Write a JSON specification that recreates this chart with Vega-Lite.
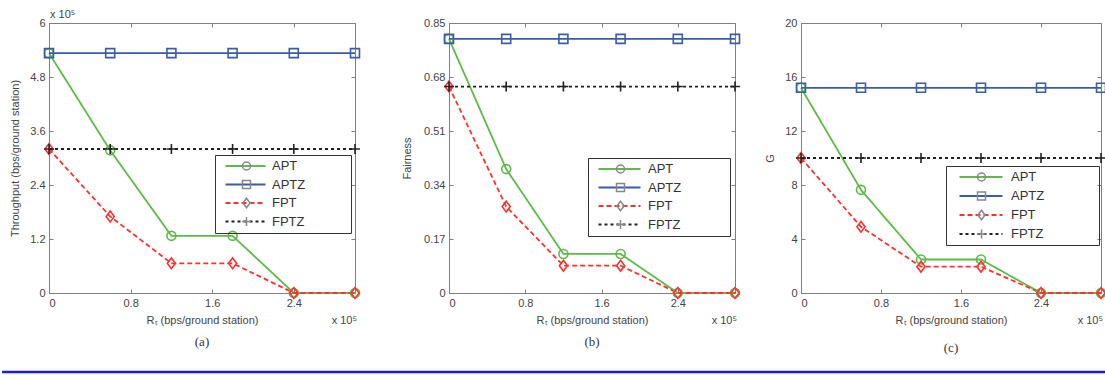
{
  "$schema": "https://vega.github.io/schema/vega-lite/v6.json",
  "background": "white",
  "padding": {"left": 0, "top": 8, "right": 0, "bottom": 0},
  "config": {
    "view": {"stroke": "#808080", "strokeWidth": 1},
    "axis": {"domainColor": "#808080", "tickColor": "#808080", "labelFont": "Liberation Sans", "labelFontSize": 11, "labelColor": "#444444", "titleFont": "Liberation Sans", "titleFontSize": 11, "titleFontWeight": "normal", "titleColor": "#444444", "grid": false, "tickSize": -4, "labelPadding": 8},
    "legend": {"labelFont": "Liberation Sans", "labelFontSize": 13, "labelColor": "#333333", "padding": 4, "rowPadding": 4.5, "clipHeight": 14},
    "title": {"font": "Liberation Serif", "fontSize": 13, "fontWeight": "normal", "color": "#333333"}
  },
  "datasets": {
    "a": [
      {"series": "APT", "x": 0, "y": 5.33}, {"series": "APT", "x": 0.6, "y": 3.17}, {"series": "APT", "x": 1.2, "y": 1.27}, {"series": "APT", "x": 1.8, "y": 1.27}, {"series": "APT", "x": 2.4, "y": 0}, {"series": "APT", "x": 3.0, "y": 0},
      {"series": "APTZ", "x": 0, "y": 5.33}, {"series": "APTZ", "x": 0.6, "y": 5.33}, {"series": "APTZ", "x": 1.2, "y": 5.33}, {"series": "APTZ", "x": 1.8, "y": 5.33}, {"series": "APTZ", "x": 2.4, "y": 5.33}, {"series": "APTZ", "x": 3.0, "y": 5.33},
      {"series": "FPT", "x": 0, "y": 3.2}, {"series": "FPT", "x": 0.6, "y": 1.7}, {"series": "FPT", "x": 1.2, "y": 0.66}, {"series": "FPT", "x": 1.8, "y": 0.66}, {"series": "FPT", "x": 2.4, "y": 0}, {"series": "FPT", "x": 3.0, "y": 0},
      {"series": "FPTZ", "x": 0, "y": 3.2}, {"series": "FPTZ", "x": 0.6, "y": 3.2}, {"series": "FPTZ", "x": 1.2, "y": 3.2}, {"series": "FPTZ", "x": 1.8, "y": 3.2}, {"series": "FPTZ", "x": 2.4, "y": 3.2}, {"series": "FPTZ", "x": 3.0, "y": 3.2}
    ],
    "b": [
      {"series": "APT", "x": 0, "y": 0.80}, {"series": "APT", "x": 0.6, "y": 0.39}, {"series": "APT", "x": 1.2, "y": 0.123}, {"series": "APT", "x": 1.8, "y": 0.123}, {"series": "APT", "x": 2.4, "y": 0}, {"series": "APT", "x": 3.0, "y": 0},
      {"series": "APTZ", "x": 0, "y": 0.80}, {"series": "APTZ", "x": 0.6, "y": 0.80}, {"series": "APTZ", "x": 1.2, "y": 0.80}, {"series": "APTZ", "x": 1.8, "y": 0.80}, {"series": "APTZ", "x": 2.4, "y": 0.80}, {"series": "APTZ", "x": 3.0, "y": 0.80},
      {"series": "FPT", "x": 0, "y": 0.65}, {"series": "FPT", "x": 0.6, "y": 0.272}, {"series": "FPT", "x": 1.2, "y": 0.086}, {"series": "FPT", "x": 1.8, "y": 0.086}, {"series": "FPT", "x": 2.4, "y": 0}, {"series": "FPT", "x": 3.0, "y": 0},
      {"series": "FPTZ", "x": 0, "y": 0.65}, {"series": "FPTZ", "x": 0.6, "y": 0.65}, {"series": "FPTZ", "x": 1.2, "y": 0.65}, {"series": "FPTZ", "x": 1.8, "y": 0.65}, {"series": "FPTZ", "x": 2.4, "y": 0.65}, {"series": "FPTZ", "x": 3.0, "y": 0.65}
    ],
    "c": [
      {"series": "APT", "x": 0, "y": 15.2}, {"series": "APT", "x": 0.6, "y": 7.64}, {"series": "APT", "x": 1.2, "y": 2.48}, {"series": "APT", "x": 1.8, "y": 2.48}, {"series": "APT", "x": 2.4, "y": 0}, {"series": "APT", "x": 3.0, "y": 0},
      {"series": "APTZ", "x": 0, "y": 15.2}, {"series": "APTZ", "x": 0.6, "y": 15.2}, {"series": "APTZ", "x": 1.2, "y": 15.2}, {"series": "APTZ", "x": 1.8, "y": 15.2}, {"series": "APTZ", "x": 2.4, "y": 15.2}, {"series": "APTZ", "x": 3.0, "y": 15.2},
      {"series": "FPT", "x": 0, "y": 10.0}, {"series": "FPT", "x": 0.6, "y": 4.9}, {"series": "FPT", "x": 1.2, "y": 1.95}, {"series": "FPT", "x": 1.8, "y": 1.95}, {"series": "FPT", "x": 2.4, "y": 0}, {"series": "FPT", "x": 3.0, "y": 0},
      {"series": "FPTZ", "x": 0, "y": 10.0}, {"series": "FPTZ", "x": 0.6, "y": 10.0}, {"series": "FPTZ", "x": 1.2, "y": 10.0}, {"series": "FPTZ", "x": 1.8, "y": 10.0}, {"series": "FPTZ", "x": 2.4, "y": 10.0}, {"series": "FPTZ", "x": 3.0, "y": 10.0}
    ]
  },
  "vconcat": [
    {
      "hconcat": [
        {
          "width": 306, "height": 270,
          "title": {"text": "(a)", "orient": "bottom", "offset": 10},
          "resolve": {"axis": {"x": "independent", "y": "independent"}},
          "layer": [
            {"data": {"name": "a"}, "mark": {"type": "line", "strokeWidth": 1.8},
             "encoding": {
               "x": {"field": "x", "type": "quantitative", "scale": {"domain": [0, 3], "nice": false, "zero": false}, "axis": {"values": [0, 0.8, 1.6, 2.4], "labelExpr": "'' + datum.value", "title": "Rₜ (bps/ground station)", "titlePadding": 6}},
               "y": {"field": "y", "type": "quantitative", "scale": {"domain": [0, 6], "nice": false}, "axis": {"values": [0, 1.2, 2.4, 3.6, 4.8, 6], "labelExpr": "'' + datum.value", "title": "Throughput (bps/ground station)", "titlePadding": 9}},
               "color": {"field": "series", "type": "nominal", "scale": {"domain": ["APT", "APTZ", "FPT", "FPTZ"], "range": ["#5dbb46", "#3b5bab", "#ff3030", "#222222"]},
                 "legend": {"orient": "none", "legendX": 166, "legendY": 132, "title": null, "symbolType": "M-1,0L7,0", "symbolSize": 100, "symbolStrokeWidth": 1.8, "symbolOffset": 5, "labelOffset": 35}},
               "strokeDash": {"field": "series", "type": "nominal", "scale": {"domain": ["APT", "APTZ", "FPT", "FPTZ"], "range": [[1, 0], [1, 0], [5, 3], [3, 3]]},
                 "legend": {"orient": "none", "legendX": 166, "legendY": 132, "title": null, "symbolType": "M-1,0L7,0", "symbolSize": 100, "symbolStrokeWidth": 1.8, "symbolOffset": 5, "labelOffset": 35}}
             }},
            {"data": {"name": "a"}, "mark": {"type": "point", "filled": false, "size": 81, "strokeWidth": 1.6, "opacity": 1},
             "encoding": {
               "x": {"field": "x", "type": "quantitative", "axis": {"orient": "top", "values": [0, 0.8, 1.6, 2.4], "labels": false, "domain": false, "title": null}},
               "y": {"field": "y", "type": "quantitative", "axis": {"orient": "right", "values": [0, 1.2, 2.4, 3.6, 4.8, 6], "labels": false, "domain": false, "title": null}},
               "color": {"field": "series", "type": "nominal", "scale": {"domain": ["APT", "APTZ", "FPT", "FPTZ"], "range": ["#5dbb46", "#3b5bab", "#ff3030", "#222222"]},
                 "legend": {"orient": "none", "legendX": 166, "legendY": 132, "title": null, "symbolType": "M-1,0L7,0", "symbolSize": 100, "symbolStrokeWidth": 1.8, "symbolOffset": 5, "labelOffset": 35}},
               "shape": {"field": "series", "type": "nominal", "scale": {"range": ["circle", "square", "M0,-1.2L0.9,0L0,1.2L-0.9,0Z", "M-1.1,0L1.1,0M0,-1.1L0,1.1"]},
                 "legend": {"orient": "none", "legendX": 166, "legendY": 132, "title": null, "symbolSize": 64, "symbolStrokeWidth": 1.5, "symbolOffset": 21, "labelExpr": "''", "labelOffset": 94, "strokeColor": "#333333",
                   "encode": {"symbols": {"update": {"fill": {"value": "transparent"}, "stroke": {"signal": "datum.value === 'APT' ? '#5dbb46' : datum.value === 'APTZ' ? '#3b5bab' : datum.value === 'FPT' ? '#ff3030' : '#222222'"}}}}}}
             }},
            {"data": {"values": [{"t": "x 10⁵"}]}, "mark": {"type": "text", "align": "right", "baseline": "top", "dy": 22, "dx": 2, "font": "Liberation Sans", "fontSize": 11, "color": "#444444"},
             "encoding": {"x": {"datum": 3, "axis": null}, "y": {"datum": 0, "axis": null}, "text": {"field": "t"}}},
            {"data": {"values": [{"t": "x 10⁵"}]}, "mark": {"type": "text", "align": "left", "baseline": "bottom", "dy": -3, "dx": 1, "font": "Liberation Sans", "fontSize": 11, "color": "#444444"},
             "encoding": {"x": {"datum": 0, "axis": null}, "y": {"datum": 6, "axis": null}, "text": {"field": "t"}}}
          ]
        },
        {
          "hconcat": [
            {
              "width": 286, "height": 270,
              "title": {"text": "(b)", "orient": "bottom", "offset": 10},
              "resolve": {"axis": {"x": "independent", "y": "independent"}},
              "layer": [
                {"data": {"name": "b"}, "mark": {"type": "line", "strokeWidth": 1.8},
                 "encoding": {
                   "x": {"field": "x", "type": "quantitative", "scale": {"domain": [0, 3], "nice": false, "zero": false}, "axis": {"values": [0, 0.8, 1.6, 2.4], "labelExpr": "'' + datum.value", "title": "Rₜ (bps/ground station)", "titlePadding": 6}},
                   "y": {"field": "y", "type": "quantitative", "scale": {"domain": [0, 0.85], "nice": false}, "axis": {"values": [0, 0.17, 0.34, 0.51, 0.68, 0.85], "labelExpr": "'' + datum.value", "title": "Fairness", "titlePadding": 11}},
                   "color": {"field": "series", "type": "nominal", "scale": {"domain": ["APT", "APTZ", "FPT", "FPTZ"], "range": ["#5dbb46", "#3b5bab", "#ff3030", "#222222"]},
                     "legend": {"orient": "none", "legendX": 139, "legendY": 135, "title": null, "symbolType": "M-1,0L7.4,0", "symbolSize": 100, "symbolStrokeWidth": 1.8, "symbolOffset": 5, "labelOffset": 38}},
                   "strokeDash": {"field": "series", "type": "nominal", "scale": {"domain": ["APT", "APTZ", "FPT", "FPTZ"], "range": [[1, 0], [1, 0], [5, 3], [3, 3]]},
                     "legend": {"orient": "none", "legendX": 139, "legendY": 135, "title": null, "symbolType": "M-1,0L7.4,0", "symbolSize": 100, "symbolStrokeWidth": 1.8, "symbolOffset": 5, "labelOffset": 38}}
                 }},
                {"data": {"name": "b"}, "mark": {"type": "point", "filled": false, "size": 81, "strokeWidth": 1.6, "opacity": 1},
                 "encoding": {
                   "x": {"field": "x", "type": "quantitative", "axis": {"orient": "top", "values": [0, 0.8, 1.6, 2.4], "labels": false, "domain": false, "title": null}},
                   "y": {"field": "y", "type": "quantitative", "axis": {"orient": "right", "values": [0, 0.17, 0.34, 0.51, 0.68, 0.85], "labels": false, "domain": false, "title": null}},
                   "color": {"field": "series", "type": "nominal", "scale": {"domain": ["APT", "APTZ", "FPT", "FPTZ"], "range": ["#5dbb46", "#3b5bab", "#ff3030", "#222222"]},
                     "legend": {"orient": "none", "legendX": 139, "legendY": 135, "title": null, "symbolType": "M-1,0L7.4,0", "symbolSize": 100, "symbolStrokeWidth": 1.8, "symbolOffset": 5, "labelOffset": 38}},
                   "shape": {"field": "series", "type": "nominal", "scale": {"range": ["circle", "square", "M0,-1.2L0.9,0L0,1.2L-0.9,0Z", "M-1.1,0L1.1,0M0,-1.1L0,1.1"]},
                     "legend": {"orient": "none", "legendX": 139, "legendY": 135, "title": null, "symbolSize": 64, "symbolStrokeWidth": 1.5, "symbolOffset": 22, "labelExpr": "''", "labelOffset": 99, "strokeColor": "#333333",
                       "encode": {"symbols": {"update": {"fill": {"value": "transparent"}, "stroke": {"signal": "datum.value === 'APT' ? '#5dbb46' : datum.value === 'APTZ' ? '#3b5bab' : datum.value === 'FPT' ? '#ff3030' : '#222222'"}}}}}}
                 }},
                {"data": {"values": [{"t": "x 10⁵"}]}, "mark": {"type": "text", "align": "right", "baseline": "top", "dy": 22, "dx": 2, "font": "Liberation Sans", "fontSize": 11, "color": "#444444"},
                 "encoding": {"x": {"datum": 3, "axis": null}, "y": {"datum": 0, "axis": null}, "text": {"field": "t"}}}
              ]
            },
            {
              "width": 300, "height": 270,
              "title": {"text": "(c)", "orient": "bottom", "offset": 16},
              "resolve": {"axis": {"x": "independent", "y": "independent"}},
              "layer": [
                {"data": {"name": "c"}, "mark": {"type": "line", "strokeWidth": 1.8},
                 "encoding": {
                   "x": {"field": "x", "type": "quantitative", "scale": {"domain": [0, 3], "nice": false, "zero": false}, "axis": {"values": [0, 0.8, 1.6, 2.4], "labelExpr": "'' + datum.value", "title": "Rₜ (bps/ground station)", "titlePadding": 6}},
                   "y": {"field": "y", "type": "quantitative", "scale": {"domain": [0, 20], "nice": false}, "axis": {"values": [0, 4, 8, 12, 16, 20], "labelExpr": "'' + datum.value", "title": "G", "titlePadding": 9}},
                   "color": {"field": "series", "type": "nominal", "scale": {"domain": ["APT", "APTZ", "FPT", "FPTZ"], "range": ["#5dbb46", "#3b5bab", "#ff3030", "#222222"]},
                     "legend": {"orient": "none", "legendX": 145, "legendY": 143, "title": null, "symbolType": "M-1,0L7.6,0", "symbolSize": 100, "symbolStrokeWidth": 1.8, "symbolOffset": 8, "labelOffset": 40, "rowPadding": 5}},
                   "strokeDash": {"field": "series", "type": "nominal", "scale": {"domain": ["APT", "APTZ", "FPT", "FPTZ"], "range": [[1, 0], [1, 0], [5, 3], [3, 3]]},
                     "legend": {"orient": "none", "legendX": 145, "legendY": 143, "title": null, "symbolType": "M-1,0L7.6,0", "symbolSize": 100, "symbolStrokeWidth": 1.8, "symbolOffset": 8, "labelOffset": 40, "rowPadding": 5}}
                 }},
                {"data": {"name": "c"}, "mark": {"type": "point", "filled": false, "size": 81, "strokeWidth": 1.6, "opacity": 1},
                 "encoding": {
                   "x": {"field": "x", "type": "quantitative", "axis": {"orient": "top", "values": [0, 0.8, 1.6, 2.4], "labels": false, "domain": false, "title": null}},
                   "y": {"field": "y", "type": "quantitative", "axis": {"orient": "right", "values": [0, 4, 8, 12, 16, 20], "labels": false, "domain": false, "title": null}},
                   "color": {"field": "series", "type": "nominal", "scale": {"domain": ["APT", "APTZ", "FPT", "FPTZ"], "range": ["#5dbb46", "#3b5bab", "#ff3030", "#222222"]},
                     "legend": {"orient": "none", "legendX": 145, "legendY": 143, "title": null, "symbolType": "M-1,0L7.6,0", "symbolSize": 100, "symbolStrokeWidth": 1.8, "symbolOffset": 8, "labelOffset": 40, "rowPadding": 5}},
                   "shape": {"field": "series", "type": "nominal", "scale": {"range": ["circle", "square", "M0,-1.2L0.9,0L0,1.2L-0.9,0Z", "M-1.1,0L1.1,0M0,-1.1L0,1.1"]},
                     "legend": {"orient": "none", "legendX": 145, "legendY": 143, "title": null, "symbolSize": 64, "symbolStrokeWidth": 1.5, "symbolOffset": 25, "rowPadding": 5, "labelExpr": "''", "labelOffset": 107, "strokeColor": "#333333",
                       "encode": {"symbols": {"update": {"fill": {"value": "transparent"}, "stroke": {"signal": "datum.value === 'APT' ? '#5dbb46' : datum.value === 'APTZ' ? '#3b5bab' : datum.value === 'FPT' ? '#ff3030' : '#222222'"}}}}}}
                 }},
                {"data": {"values": [{"t": "x 10⁵"}]}, "mark": {"type": "text", "align": "right", "baseline": "top", "dy": 22, "dx": 2, "font": "Liberation Sans", "fontSize": 11, "color": "#444444"},
                 "encoding": {"x": {"datum": 3, "axis": null}, "y": {"datum": 0, "axis": null}, "text": {"field": "t"}}}
              ]
            }
          ],
          "spacing": 66,
          "bounds": "flush",
          "resolve": {"scale": {"color": "independent", "shape": "independent", "strokeDash": "independent"}, "legend": {"color": "independent", "shape": "independent", "strokeDash": "independent"}}
        }
      ],
      "spacing": 94,
      "bounds": "flush",
      "resolve": {"scale": {"color": "independent", "shape": "independent", "strokeDash": "independent"}, "legend": {"color": "independent", "shape": "independent", "strokeDash": "independent"}}
    },
    {
      "width": 1058, "height": 2,
      "view": {"stroke": null},
      "data": {"values": [{"v": 0}]},
      "mark": {"type": "rule", "color": "#1a1aee", "strokeWidth": 2.5},
      "encoding": {
        "y": {"field": "v", "type": "quantitative", "axis": null},
        "x": {"datum": 0, "type": "quantitative", "scale": {"domain": [0.0425, 1], "nice": false, "zero": false}, "axis": null},
        "x2": {"datum": 1}
      }
    }
  ],
  "spacing": 14
}
